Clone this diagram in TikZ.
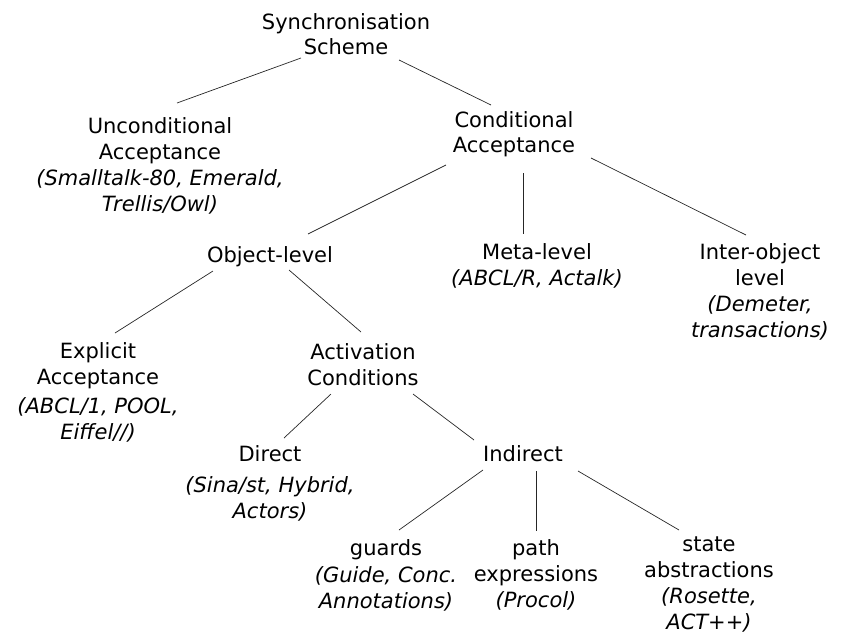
\documentclass[tikz,border=0pt]{standalone}
\usepackage{fontspec}
\setmainfont{DejaVu Sans}
\newcommand{\firstline}{\rule{0pt}{17pt}}
\begin{document}
\begin{tikzpicture}[x=1pt,y=-1pt,
  lbl/.style={anchor=north, inner sep=0pt, align=center,
    font=\fontsize{21pt}{26pt}\selectfont},
  link/.style={draw=black!85, line width=0.7pt}]
\useasboundingbox (0,0) rectangle (842,635);

% nodes of the classification tree
\node[lbl] (sync)     at (346,12)  {\firstline Synchronisation\\[-1pt]Scheme};
\node[lbl] (uncond)   at (160,116) {\firstline Unconditional\\Acceptance\\
  \itshape(Smalltalk-80, Emerald,\\\itshape Trellis/Owl)};
\node[lbl] (cond)     at (514,110) {\firstline Conditional\\[-1pt]Acceptance};
\node[lbl] (obj)      at (270,245) {\firstline Object-level};
\node[lbl] (meta)     at (537,242) {\firstline Meta-level\\\itshape(ABCL/R, Actalk)};
\node[lbl] (inter)    at (760,242) {\firstline Inter-object\\level\\
  \itshape(Demeter,\\\itshape transactions)};
\node[lbl] (expl)     at (98,341)  {\firstline Explicit\\Acceptance\\[3pt]
  \itshape(ABCL/1, POOL,\\\itshape Eiffel//)};
\node[lbl] (act)      at (363,342) {\firstline Activation\\Conditions};
\node[lbl] (direct)   at (270,444) {\firstline Direct\\[5pt]
  \itshape(Sina/st, Hybrid,\\\itshape Actors)};
\node[lbl] (indirect) at (523,444) {\firstline Indirect};
\node[lbl] (guards)   at (386,538) {\firstline guards\\[1pt]
  \itshape(Guide, Conc.\\\itshape Annotations)};
\node[lbl] (path)     at (536,538) {\firstline path\\expressions\\
  \itshape(Procol)};
\node[lbl] (state)    at (709,534) {\firstline state\\abstractions\\
  \itshape(Rosette,\\\itshape ACT++)};

% connectors
\draw[link] ([shift={(-45,46)}]sync.north)    -- ([shift={(17,-13)}]uncond.north);
\draw[link] ([shift={(53,48)}]sync.north)     -- ([shift={(-23,-5)}]cond.north);
\draw[link] ([shift={(-68,55)}]cond.north)    -- ([shift={(38,-11)}]obj.north);
\draw[link] ([shift={(9,63)}]cond.north)      -- ([shift={(-14,-8)}]meta.north);
\draw[link] ([shift={(77,48)}]cond.north)     -- ([shift={(-14,-7)}]inter.north);
\draw[link] ([shift={(-57,26)}]obj.north)     -- ([shift={(17,-8)}]expl.north);
\draw[link] ([shift={(19,25)}]obj.north)      -- ([shift={(-2,-10)}]act.north);
\draw[link] ([shift={(-32,52)}]act.north)     -- ([shift={(14,-6)}]direct.north);
\draw[link] ([shift={(50,52)}]act.north)      -- ([shift={(-49,-4)}]indirect.north);
\draw[link] ([shift={(-40,26)}]indirect.north) -- ([shift={(13,-8)}]guards.north);
\draw[link] ([shift={(13,27)}]indirect.north)  -- ([shift={(0,-7)}]path.north);
\draw[link] ([shift={(55,27)}]indirect.north)  -- ([shift={(-30,-4)}]state.north);
\end{tikzpicture}
\end{document}
